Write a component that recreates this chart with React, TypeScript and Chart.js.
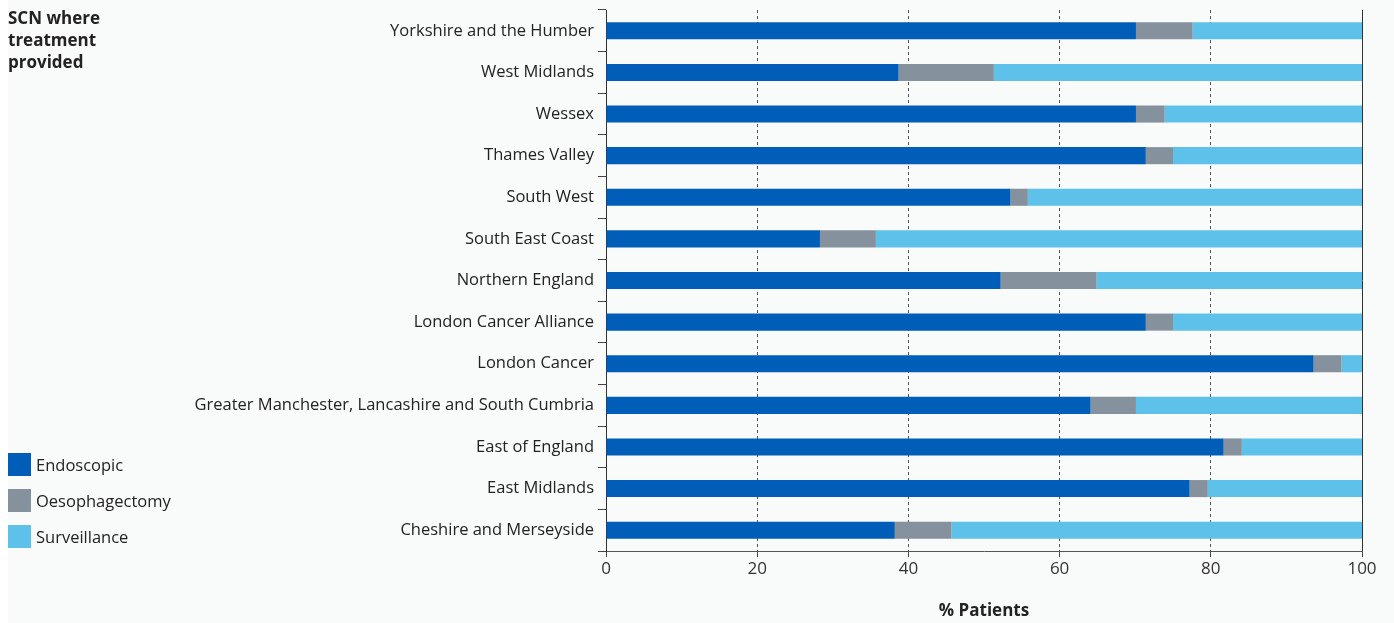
import React, { useEffect, useRef } from "react";
import { Chart, registerables } from "chart.js";

Chart.register(...registerables);

const categories = [
  "Yorkshire and the Humber",
  "West Midlands",
  "Wessex",
  "Thames Valley",
  "South West",
  "South East Coast",
  "Northern England",
  "London Cancer Alliance",
  "London Cancer",
  "Greater Manchester, Lancashire and South Cumbria",
  "East of England",
  "East Midlands",
  "Cheshire and Merseyside",
];

const endoscopic = [70.1, 38.7, 70.1, 71.4, 53.5, 28.3, 52.2, 71.4, 93.6, 64.1, 81.7, 77.2, 38.2];
const oesophagectomy = [7.5, 12.6, 3.8, 3.6, 2.3, 7.4, 12.7, 3.6, 3.7, 6.0, 2.4, 2.4, 7.5];
const surveillance = [22.4, 48.7, 26.1, 25.0, 44.2, 64.3, 35.1, 25.0, 2.7, 29.9, 15.9, 20.4, 54.3];

const xTicks = [0, 20, 40, 60, 80, 100];

const seriesNames = ["Endoscopic", "Oesophagectomy", "Surveillance"];
const seriesColors = ["#005eb8", "#85919d", "#5dc1e9"];

const FONT = "'Open Sans', 'Noto Sans', sans-serif";

const rightLinePlugin = {
  id: "rightLine",
  afterDatasetsDraw(chart: any) {
    const { ctx, chartArea, scales } = chart;
    const x = Math.round(scales.x.getPixelForValue(100)) + 0.5;
    ctx.save();
    ctx.strokeStyle = "#333333";
    ctx.lineWidth = 1;
    ctx.beginPath();
    ctx.moveTo(x, chartArea.top);
    ctx.lineTo(x, chartArea.bottom);
    ctx.stroke();
    ctx.restore();
  },
};

export default function App() {
  const canvasRef = useRef<HTMLCanvasElement | null>(null);

  useEffect(() => {
    const canvas = canvasRef.current;
    if (!canvas) return;
    const data = [endoscopic, oesophagectomy, surveillance];
    const chart = new Chart(canvas, {
      type: "bar",
      data: {
        labels: categories,
        datasets: seriesNames.map((name, i) => ({
          label: name,
          data: data[i],
          backgroundColor: seriesColors[i],
          borderWidth: 0,
          categoryPercentage: 1,
          barPercentage: 0.41,
        })),
      },
      plugins: [rightLinePlugin],
      options: {
        indexAxis: "y",
        animation: false,
        responsive: false,
        maintainAspectRatio: false,
        layout: { padding: { top: 10, right: 32, left: 0, bottom: 0 } },
        plugins: {
          legend: { display: false },
          tooltip: { enabled: false },
        },
        scales: {
          x: {
            type: "linear",
            stacked: true,
            min: 0,
            max: 100,
            afterBuildTicks: (scale: any) => {
              scale.ticks = xTicks.map((v) => ({ value: v }));
            },
            afterFit: (scale: any) => {
              scale.height = 72;
            },
            grid: {
              color: (ctx: any) =>
                ctx.tick && (ctx.tick.value === 0 || ctx.tick.value === 100) ? "rgba(0,0,0,0)" : "#555555",
              lineWidth: 1,
              drawTicks: true,
              tickLength: 6,
              tickColor: "#444444",
              tickWidth: 1,
              tickBorderDash: [],
            },
            border: { display: true, color: "#555555", width: 1, dash: [3, 3] },
            ticks: {
              color: "#333333",
              font: { family: FONT, size: 17 },
              padding: 2,
            },
            title: {
              display: true,
              text: "% Patients",
              color: "#222222",
              font: { family: FONT, size: 17, weight: "bold" },
              padding: { top: 0, bottom: 2 },
            },
          },
          y: {
            type: "category",
            stacked: true,
            afterFit: (scale: any) => {
              scale.width = 598;
              scale.paddingTop = 0;
              scale.paddingBottom = 0;
            },
            grid: {
              drawOnChartArea: false,
              drawTicks: true,
              tickLength: 8,
              color: "#444444",
              tickColor: "#444444",
              offset: true,
            },
            border: { display: true, color: "#333333", width: 1 },
            ticks: {
              autoSkip: false,
              color: "#222222",
              font: { family: FONT, size: 16.5 },
              padding: 4,
            },
          },
        },
      },
    } as any);
    return () => chart.destroy();
  }, []);

  return (
    <div
      style={{
        position: "fixed",
        left: 8,
        top: 0,
        width: 1386,
        height: 623,
        background: "#f9fafa",
        fontFamily: FONT,
      }}
    >
      <canvas
        ref={canvasRef}
        width={1386}
        height={623}
        style={{ position: "absolute", left: 0, top: 0, width: 1386, height: 623 }}
      />
      <div
        style={{
          position: "absolute",
          left: 0,
          top: 7,
          fontWeight: "bold",
          fontSize: 17,
          lineHeight: "22px",
          color: "#222222",
        }}
      >
        SCN where
        <br />
        treatment
        <br />
        provided
      </div>
      <div style={{ position: "absolute", left: 0, top: 453 }}>
        {seriesNames.map((name, i) => (
          <div
            key={name}
            style={{ display: "flex", alignItems: "center", height: 23, marginBottom: 13 }}
          >
            <div style={{ width: 23, height: 23, background: seriesColors[i] }} />
            <span style={{ marginLeft: 5, fontSize: 16.5, color: "#222222" }}>{name}</span>
          </div>
        ))}
      </div>
    </div>
  );
}
